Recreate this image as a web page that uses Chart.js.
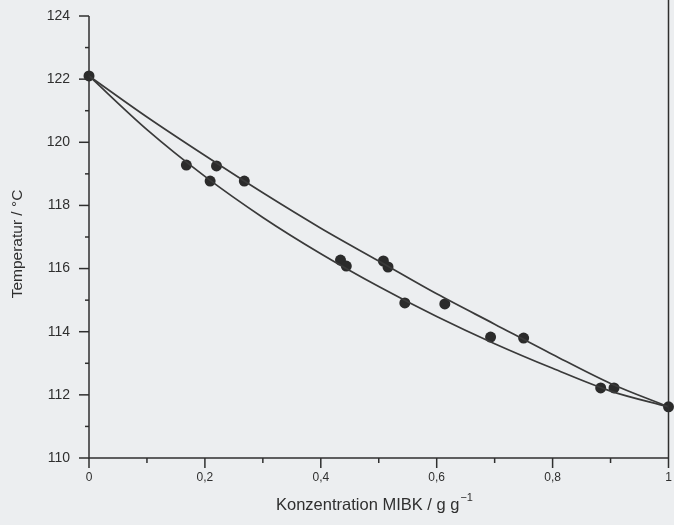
<!DOCTYPE html>
<html>
<head>
<meta charset="utf-8">
<script src="https://cdn.jsdelivr.net/npm/chart.js@4.4.1/dist/chart.umd.min.js"></script>
<style>
  html, body { margin: 0; padding: 0; background: #eceef0; }
  canvas { display: block; }
</style>
</head>
<body>
<canvas id="vleChart" width="674" height="525"></canvas>
<script>
// Curves (fitted lines) at x = 0 .. 1 in steps of 0.1
const curveX = [0, 0.1, 0.2, 0.3, 0.4, 0.5, 0.6, 0.7, 0.8, 0.9, 1.0];
const dewCurve = [122.10, 120.80, 119.58, 118.40, 117.28, 116.24, 115.20, 114.24, 113.28, 112.36, 111.62];
const boilCurve = [122.10, 120.40, 118.92, 117.62, 116.47, 115.43, 114.48, 113.62, 112.84, 112.12, 111.62];

// Measured points
const pointX = [0, 0.168, 0.209, 0.220, 0.268, 0.434, 0.444, 0.508, 0.516, 0.545, 0.614, 0.693, 0.750, 0.883, 0.906, 1.0];
const pointY = [122.10, 119.28, 118.77, 119.25, 118.77, 116.27, 116.08, 116.24, 116.05, 114.91, 114.88, 113.83, 113.80, 112.22, 112.22, 111.62];

// Axis ticks
const xTicks = [0, 0.2, 0.4, 0.6, 0.8, 1];
const xTickLabels = ["0", "0,2", "0,4", "0,6", "0,8", "1"];
const yTicks = [110, 112, 114, 116, 118, 120, 122, 124];

const ink = "#2f2f2f";
const font = "'Liberation Sans', Arial, sans-serif";

const toXY = (xs, ys) => xs.map((x, i) => ({ x: x, y: ys[i] }));

// Draws axis lines, major/minor ticks, tick labels and titles
const axesPlugin = {
  id: "axesPlugin",
  beforeDraw(chart) {
    const ctx = chart.ctx;
    ctx.save();
    ctx.fillStyle = "#eceef0";
    ctx.fillRect(0, 0, chart.width, chart.height);
    ctx.restore();
  },
  afterDraw(chart) {
    const ctx = chart.ctx;
    const xs = chart.scales.x;
    const ys = chart.scales.y;
    const area = chart.chartArea;
    ctx.save();
    ctx.strokeStyle = ink;
    ctx.fillStyle = ink;
    ctx.lineWidth = 1.5;

    // axis lines
    ctx.beginPath();
    ctx.moveTo(area.left, area.top);
    ctx.lineTo(area.left, area.bottom);
    ctx.lineTo(area.right, area.bottom);
    ctx.moveTo(area.right, 0);
    ctx.lineTo(area.right, area.bottom);
    ctx.stroke();

    // y ticks
    for (let v = 110; v <= 124; v++) {
      const py = ys.getPixelForValue(v);
      const len = v % 2 === 0 ? 10 : 4;
      ctx.beginPath();
      ctx.moveTo(area.left - len, py);
      ctx.lineTo(area.left, py);
      ctx.stroke();
    }
    ctx.font = "14px " + font;
    ctx.textAlign = "right";
    ctx.textBaseline = "middle";
    yTicks.forEach(v => ctx.fillText(String(v), 70, ys.getPixelForValue(v)));

    // x ticks
    for (let i = 0; i <= 10; i++) {
      const px = xs.getPixelForValue(i / 10);
      const len = i % 2 === 0 ? 10 : 5;
      ctx.beginPath();
      ctx.moveTo(px, area.bottom);
      ctx.lineTo(px, area.bottom + len);
      ctx.stroke();
    }
    ctx.font = "12px " + font;
    ctx.textAlign = "center";
    ctx.textBaseline = "top";
    xTicks.forEach((v, i) => ctx.fillText(xTickLabels[i], xs.getPixelForValue(v), area.bottom + 14));

    // x title with superscript
    ctx.textAlign = "left";
    ctx.textBaseline = "alphabetic";
    const main = "Konzentration MIBK / g g";
    const sup = "\u22121";
    ctx.font = "16.5px " + font;
    const w1 = ctx.measureText(main).width;
    ctx.font = "11px " + font;
    const w2 = ctx.measureText(sup).width;
    const tx = 374 - (w1 + w2) / 2;
    ctx.font = "16.5px " + font;
    ctx.fillText(main, tx, 510);
    ctx.font = "11px " + font;
    ctx.fillText(sup, tx + w1 + 1, 501);

    // y title
    ctx.translate(18, 244);
    ctx.rotate(-Math.PI / 2);
    ctx.font = "15.5px " + font;
    ctx.textAlign = "center";
    ctx.textBaseline = "middle";
    ctx.fillText("Temperatur / \u00B0C", 0, 0);
    ctx.restore();
  }
};

new Chart(document.getElementById("vleChart"), {
  type: "scatter",
  data: {
    datasets: [
      {
        type: "line",
        data: toXY(curveX, dewCurve),
        borderColor: "#3a3a3a",
        borderWidth: 1.7,
        pointRadius: 0,
        cubicInterpolationMode: "monotone",
        fill: false,
        clip: false
      },
      {
        type: "line",
        data: toXY(curveX, boilCurve),
        borderColor: "#3a3a3a",
        borderWidth: 1.7,
        pointRadius: 0,
        cubicInterpolationMode: "monotone",
        fill: false,
        clip: false
      },
      {
        data: toXY(pointX, pointY),
        pointRadius: 5.5,
        pointBackgroundColor: "#2b2b2b",
        pointBorderWidth: 0,
        clip: false
      }
    ]
  },
  options: {
    responsive: false,
    animation: false,
    layout: { padding: { top: 16, right: 2, left: 0, bottom: 0 } },
    plugins: {
      legend: { display: false },
      tooltip: { enabled: false }
    },
    scales: {
      x: {
        type: "linear",
        min: 0,
        max: 1,
        grid: { display: false },
        border: { display: false },
        ticks: { display: false },
        afterFit(scale) { scale.height = 67; }
      },
      y: {
        type: "linear",
        min: 110,
        max: 124,
        grid: { display: false },
        border: { display: false },
        ticks: { display: false },
        afterFit(scale) { scale.width = 89; }
      }
    }
  },
  plugins: [axesPlugin]
});
</script>
</body>
</html>
